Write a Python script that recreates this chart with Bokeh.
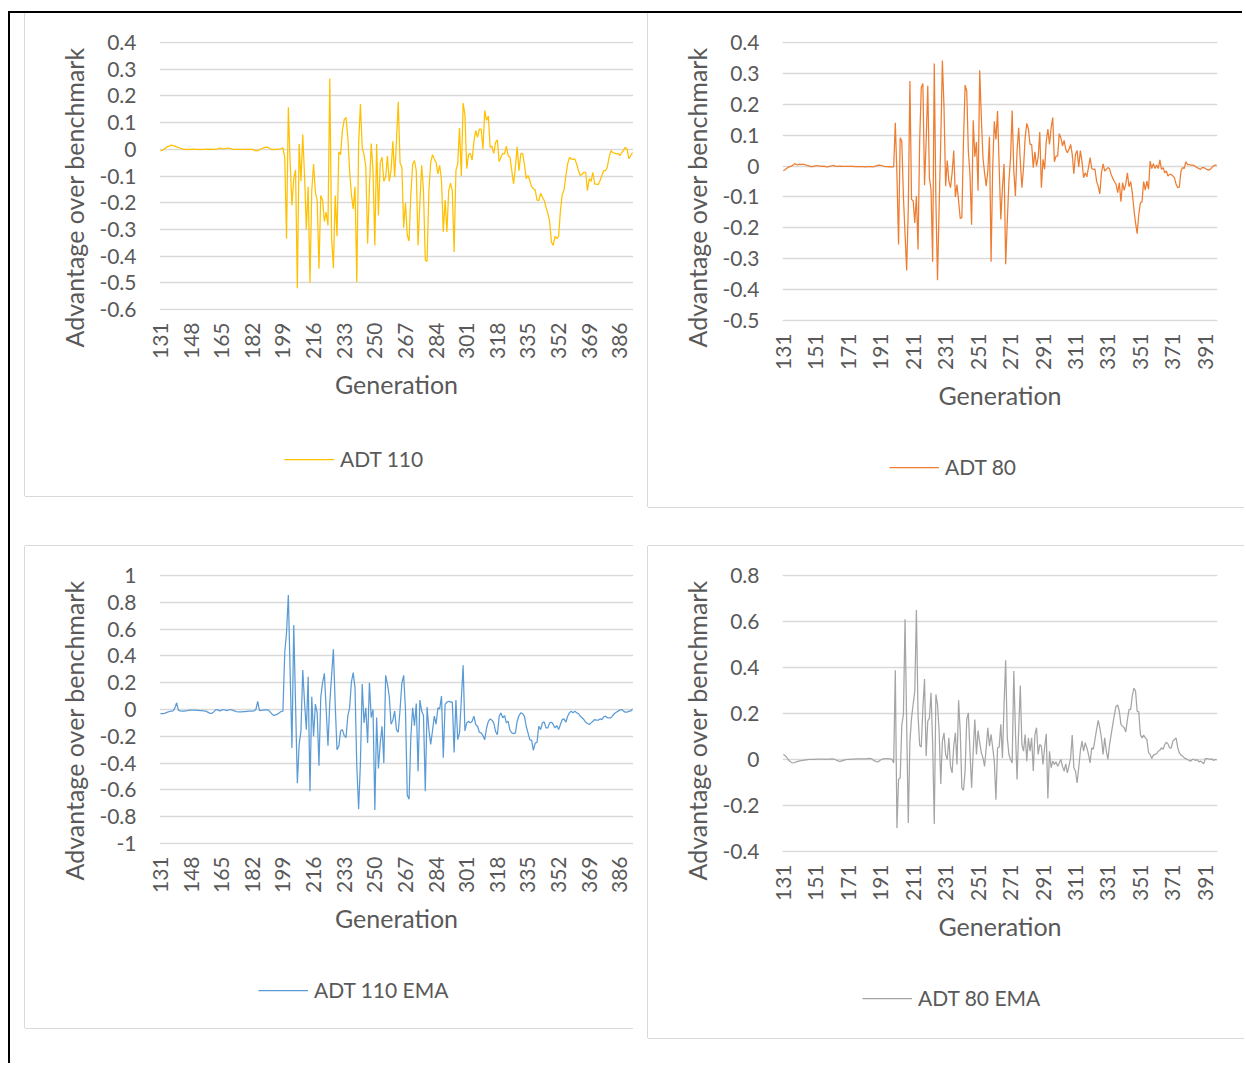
import math
from bokeh.plotting import figure
from bokeh.models import (ColumnDataSource, Range1d, FixedTicker, Legend, LegendItem, Spacer,
                          Title)
from bokeh.layouts import row, column
from bokeh.embed import file_html
from bokeh.resources import INLINE

# ---------------- data ----------------
ADT110 = [
    -0.005, -0.004, 0.0, 0.006, 0.010, 0.012, 0.016, 0.014, 0.012, 0.009,
    0.007, 0.004, 0.002, 0.0, 0.0, -0.001, 0.0, 0.0, 0.001, 0.0,
    0.0, 0.0, -0.001, 0.0, 0.0, 0.0, 0.001, 0.0, 0.0, 0.0,
    0.0, 0.001, 0.002, 0.005, 0.003, 0.002, 0.003, 0.004, 0.004, 0.003,
    0.001, 0.0, 0.0, 0.0, 0.0, 0.0, 0.0, 0.0, 0.0, 0.0,
    0.0, 0.0, -0.003, -0.006, -0.005, -0.002, 0.002, 0.005, 0.007, 0.008,
    0.006, 0.002, -0.001, 0.0, 0.0, 0.0, 0.001, 0.003, 0.005, -0.03,
    -0.335, 0.157, -0.05, -0.21, -0.11, -0.077, -0.52, 0.02, -0.12, 0.055,
    -0.10, -0.30, -0.14, -0.50, -0.155, -0.055, -0.16, -0.19, -0.447, -0.173,
    -0.19, -0.27, -0.235, -0.285, 0.265, -0.33, -0.445, -0.173, -0.326, -0.01,
    -0.02, 0.07, 0.11, 0.12, 0.045, -0.08, -0.17, -0.223, -0.14, -0.497,
    0.02, 0.17, 0.007, -0.02, -0.067, -0.354, -0.14, 0.022, -0.08, -0.36,
    0.02, -0.248, -0.05, -0.03, -0.12, -0.105, -0.025, -0.12, -0.08, 0.03,
    -0.105, 0.03, 0.178, -0.05, -0.067, -0.294, -0.20, -0.322, -0.344, -0.167,
    -0.055, -0.042, -0.08, -0.36, -0.20, -0.06, -0.155, -0.415, -0.42, -0.155,
    -0.05, -0.02, -0.036, -0.05, -0.092, -0.06, -0.117, -0.31, -0.19, -0.31,
    -0.155, -0.127, -0.155, -0.385, -0.08, -0.055, 0.08, -0.10, 0.173, 0.13,
    -0.073, -0.02, -0.015, -0.04, 0.03, 0.07, 0.045, 0.076, 0.076, 0.0,
    0.145, 0.108, 0.125, 0.007, 0.012, -0.015, 0.026, 0.035, -0.046, -0.03,
    -0.015, -0.017, 0.012, -0.024, -0.03, -0.08, -0.13, -0.067, 0.009, -0.08,
    -0.017, -0.015, -0.055, -0.11, -0.098, -0.117, -0.14, -0.148, -0.152, -0.19,
    -0.192, -0.165, -0.18, -0.192, -0.217, -0.24, -0.27, -0.347, -0.36, -0.326,
    -0.335, -0.326, -0.23, -0.17, -0.152, -0.10, -0.055, -0.03, -0.036, -0.038,
    -0.036, -0.055, -0.08, -0.098, -0.094, -0.086, -0.086, -0.155, -0.11, -0.12,
    -0.086, -0.13, -0.13, -0.132, -0.117, -0.098, -0.08, -0.08, -0.067, -0.03,
    -0.005, -0.012, -0.014, -0.017, -0.015, -0.024, -0.012, -0.005, 0.007, 0.0,
    -0.035, -0.024, -0.012,
]

ADT80 = [
    -0.015, -0.012, -0.008, -0.004, -0.002, 0.0, 0.003, 0.008, 0.005, 0.004,
    0.006, 0.005, 0.006, 0.005, 0.003, 0.002, 0.0, -0.002, -0.002, 0.0,
    0.001, 0.001, 0.0, 0.0, -0.001, 0.0, -0.002, -0.003, -0.002, 0.0,
    0.001, 0.002, 0.0, -0.001, -0.001, 0.0, -0.001, -0.001, -0.001, -0.001,
    -0.001, -0.001, -0.001, -0.001, -0.002, -0.002, -0.002, -0.002, -0.002, -0.002,
    -0.003, -0.003, -0.002, -0.002, -0.002, -0.003, -0.002, 0.0, 0.002, 0.003,
    0.002, 0.001, -0.001, -0.002, -0.002, -0.003, -0.002, -0.003, -0.003, 0.14,
    -0.027, -0.254, 0.092, 0.08, -0.10, -0.22, -0.338, -0.135, 0.275, -0.108,
    -0.112, -0.184, -0.097, -0.27, 0.08, 0.254, 0.267, -0.062, 0.08, 0.26,
    -0.038, -0.076, -0.31, 0.332, -0.11, -0.37, -0.135, 0.08, 0.342, 0.19,
    -0.065, 0.018, -0.049, -0.07, -0.022, 0.05, -0.10, -0.06, -0.113, -0.17,
    -0.167, 0.08, 0.262, 0.243, 0.049, -0.027, -0.19, 0.148, 0.03, 0.078,
    -0.08, 0.31, 0.157, 0.027, -0.022, -0.065, -0.016, 0.095, -0.31, -0.005,
    0.145, 0.086, 0.178, -0.005, -0.173, -0.07, 0.007, -0.318, -0.178, -0.049,
    0.027, 0.18, -0.016, -0.097, 0.049, 0.124, 0.016, -0.07, -0.005, 0.092,
    0.138, 0.12, 0.07, 0.07, -0.005, 0.046, 0.0, 0.027, 0.11, -0.07,
    0.022, -0.01, 0.08, 0.12, 0.07, 0.124, 0.157, 0.014, 0.032, 0.032,
    0.105, 0.092, 0.065, 0.083, 0.054, 0.043, 0.054, 0.07, 0.038, -0.025,
    0.038, 0.05, -0.003, 0.05, 0.016, -0.038, -0.022, -0.035, -0.005, 0.027,
    -0.008, -0.011, -0.01, -0.049, -0.065, -0.09, -0.022, 0.007, -0.016, -0.011,
    -0.005, -0.009, -0.027, -0.04, -0.05, -0.059, -0.086, -0.054, -0.115, -0.054,
    -0.079, -0.057, -0.022, -0.067, -0.05, -0.086, -0.14, -0.183, -0.219, -0.157,
    -0.119, -0.116, -0.05, -0.078, -0.049, -0.075, 0.016, -0.008, 0.008, -0.008,
    0.003, -0.008, 0.02, -0.011, -0.005, -0.022, -0.016, -0.032, -0.027, -0.027,
    -0.032, -0.038, -0.059, -0.07, -0.068, -0.016, -0.005, -0.008, 0.014, 0.005,
    0.005, 0.003, 0.003, 0.002, -0.002, -0.005, -0.008, -0.011, -0.005, -0.005,
    -0.008, -0.011, -0.013, -0.011, -0.005, 0.0, 0.003, 0.003,
]

ADT110_EMA = [
    -0.03, -0.03, -0.03, -0.025, -0.02, -0.015, -0.012, -0.01, 0.01, 0.05,
    -0.005, -0.01, -0.012, -0.012, -0.01, -0.008, -0.005, -0.005, -0.005, -0.005,
    -0.006, -0.007, -0.008, -0.008, -0.01, -0.012, -0.018, -0.025, -0.03, -0.025,
    -0.012, 0.0, -0.005, -0.01, -0.005, 0.0, -0.005, -0.008, -0.002, 0.0,
    -0.005, -0.01, -0.015, -0.018, -0.018, -0.017, -0.016, -0.015, -0.014, -0.013,
    -0.012, -0.012, -0.01, 0.0, 0.06, -0.008, -0.006, -0.004, -0.002, -0.002,
    -0.005, -0.02, -0.035, -0.045, -0.04, -0.035, -0.025, -0.015, -0.012, 0.425,
    0.575, 0.855, 0.28, -0.288, 0.63, 0.04, -0.55, -0.26, -0.16, 0.295,
    0.05, -0.15, 0.245, -0.61, 0.095, -0.2, 0.04, -0.025, -0.42, 0.09,
    0.2, 0.27, 0.0, -0.27, 0.05, 0.25, 0.45, 0.04, -0.3, -0.275,
    -0.16, -0.15, -0.195, -0.21, -0.05, 0.012, 0.205, 0.275, 0.16, -0.425,
    -0.745, -0.4, 0.19, -0.1, 0.012, -0.25, 0.2, -0.06, 0.0, -0.75,
    -0.06, -0.44, -0.25, -0.125, -0.40, 0.255, 0.19, 0.10, -0.11, -0.08,
    -0.012, -0.15, -0.17, 0.0, 0.195, 0.255, 0.0, -0.64, -0.67, -0.2,
    0.012, -0.12, 0.045, -0.46, 0.07, -0.012, -0.045, -0.61, 0.018, -0.15,
    -0.26, -0.16, -0.05, -0.11, 0.012, 0.005, 0.1, -0.36, 0.038, 0.055,
    0.062, 0.055, 0.055, -0.32, 0.07, -0.225, -0.175, 0.075, 0.33, -0.16,
    -0.1, -0.088, -0.1, -0.088, -0.05, -0.112, -0.125, -0.17, -0.175, -0.195,
    -0.225, -0.138, -0.088, -0.07, -0.08, -0.1, -0.163, -0.188, -0.05, -0.025,
    -0.062, -0.045, -0.1, -0.088, -0.155, -0.175, -0.18, -0.175, -0.088, -0.045,
    -0.025, -0.03, -0.05, -0.125, -0.175, -0.225, -0.23, -0.305, -0.25, -0.245,
    -0.125, -0.15, -0.1, -0.092, -0.138, -0.138, -0.1, -0.095, -0.112, -0.138,
    -0.12, -0.15, -0.112, -0.075, -0.07, -0.095, -0.05, -0.025, -0.012, -0.025,
    -0.012, -0.025, -0.03, -0.05, -0.062, -0.075, -0.095, -0.105, -0.112, -0.1,
    -0.088, -0.075, -0.08, -0.08, -0.07, -0.075, -0.055, -0.05, -0.062, -0.062,
    -0.062, -0.045, -0.03, -0.02, -0.012, -0.005, 0.0, -0.012, -0.02, -0.02,
    -0.012, -0.012, 0.005,
]

ADT80_EMA = [
    0.022, 0.018, 0.01, 0.0, -0.008, -0.013, -0.015, -0.013, -0.01, -0.008,
    -0.006, -0.005, -0.004, -0.003, -0.002, -0.001, 0.0, 0.0, 0.001, 0.001,
    0.001, 0.002, 0.002, 0.002, 0.002, 0.002, 0.001, 0.002, 0.002, 0.002,
    0.003, 0.002, 0.0, -0.004, -0.007, -0.008, -0.006, -0.004, -0.002, 0.0,
    0.001, 0.001, 0.002, 0.002, 0.002, 0.003, 0.003, 0.003, 0.003, 0.003,
    0.003, 0.003, 0.004, 0.005, 0.004, 0.0, -0.005, -0.009, -0.01, -0.007,
    -0.002, 0.002, 0.003, 0.004, 0.004, 0.003, 0.003, 0.0, -0.015, 0.388,
    -0.298, -0.087, -0.08, 0.15, 0.196, 0.61, 0.15, -0.276, 0.08, 0.18,
    0.24, 0.298, 0.65, 0.196, 0.062, 0.054, 0.225, 0.35, 0.015, 0.167,
    0.18, 0.29, 0.073, -0.28, 0.283, 0.24, 0.123, -0.106, 0.08, 0.116,
    0.022, 0.0, 0.094, -0.03, -0.058, 0.058, 0.116, -0.022, 0.258, 0.123,
    -0.123, -0.134, -0.05, 0.174, 0.203, 0.036, -0.123, 0.036, 0.174, 0.022,
    0.126, 0.073, 0.029, 0.007, -0.03, 0.051, 0.138, 0.058, 0.109, 0.051,
    -0.007, -0.175, 0.051, 0.054, 0.153, 0.007, 0.24, 0.431, 0.094, 0.022,
    0.0, -0.015, 0.385, 0.123, -0.087, 0.123, 0.322, 0.065, 0.036, 0.109,
    -0.007, 0.094, 0.036, 0.094, -0.05, 0.109, 0.138, 0.022, 0.065, 0.058,
    -0.022, 0.051, 0.112, -0.17, 0.036, -0.036, -0.007, -0.022, -0.01, -0.03,
    -0.015, 0.0, -0.03, -0.05, -0.019, -0.058, -0.029, 0.007, 0.106, -0.036,
    -0.05, -0.102, -0.036, 0.036, 0.08, 0.036, 0.073, 0.051, 0.022, -0.015,
    0.051, 0.044, 0.087, 0.131, 0.17, 0.138, 0.094, 0.022, 0.094, 0.036,
    0.0, 0.065, 0.109, 0.153, 0.196, 0.232, 0.237, 0.211, 0.153, 0.145,
    0.138, 0.12, 0.174, 0.218, 0.218, 0.276, 0.31, 0.298, 0.21, 0.207,
    0.109, 0.094, 0.106, 0.094, 0.087, 0.03, 0.022, 0.004, 0.019, 0.022,
    0.025, 0.036, 0.04, 0.051, 0.044, 0.065, 0.075, 0.068, 0.05, 0.05,
    0.08, 0.087, 0.094, 0.051, 0.029, 0.019, 0.015, 0.007, 0.004, 0.0,
    -0.004, -0.007, 0.0, 0.0, -0.004, 0.0, -0.01, -0.007, -0.012, -0.019,
    0.004, 0.004, 0.003, 0.0, 0.003, -0.004, 0.0, -0.002,
]

FIRST_GEN = 131
GEN_110 = list(range(FIRST_GEN, FIRST_GEN + len(ADT110)))
GEN_80 = list(range(FIRST_GEN, FIRST_GEN + len(ADT80)))
GEN_110_EMA = list(range(FIRST_GEN, FIRST_GEN + len(ADT110_EMA)))
GEN_80_EMA = list(range(FIRST_GEN, FIRST_GEN + len(ADT80_EMA)))

XTICKS_17 = [131, 148, 165, 182, 199, 216, 233, 250, 267, 284, 301, 318, 335, 352, 369, 386]
XTICKS_20 = [131, 151, 171, 191, 211, 231, 251, 271, 291, 311, 331, 351, 371, 391]

YT_ADT110 = [0.4, 0.3, 0.2, 0.1, 0.0, -0.1, -0.2, -0.3, -0.4, -0.5, -0.6]
YL_ADT110 = ["0.4", "0.3", "0.2", "0.1", "0", "-0.1", "-0.2", "-0.3", "-0.4", "-0.5", "-0.6"]
YT_ADT80 = [0.4, 0.3, 0.2, 0.1, 0.0, -0.1, -0.2, -0.3, -0.4, -0.5]
YL_ADT80 = ["0.4", "0.3", "0.2", "0.1", "0", "-0.1", "-0.2", "-0.3", "-0.4", "-0.5"]
YT_ADT110_EMA = [1.0, 0.8, 0.6, 0.4, 0.2, 0.0, -0.2, -0.4, -0.6, -0.8, -1.0]
YL_ADT110_EMA = ["1", "0.8", "0.6", "0.4", "0.2", "0", "-0.2", "-0.4", "-0.6", "-0.8", "-1"]
YT_ADT80_EMA = [0.8, 0.6, 0.4, 0.2, 0.0, -0.2, -0.4]
YL_ADT80_EMA = ["0.8", "0.6", "0.4", "0.2", "0", "-0.2", "-0.4"]

Y_TITLE = "Advantage over benchmark"
X_TITLE = "Generation"

# ---------------- styling ----------------
FONT = "Lato"
TXT = "#595959"
GRID = "#d9d9d9"
TICK_SIZE = "21px"
TITLE_SIZE = "25px"


def make_chart(gens, vals, color, name, W, H, HL, bl, br, bt, bb, xr, yr, yt, yl, xt,
               ytitle_offset, legend_xy, shadow):
    p = figure(width=W, height=H, x_range=Range1d(*xr), y_range=Range1d(*yr),
               toolbar_location=None, output_backend="svg",
               min_border_left=bl, min_border_right=br, min_border_top=bt, min_border_bottom=bb,
               outline_line_color=None, background_fill_color="white", border_fill_color="white")
    src = ColumnDataSource(dict(x=gens, y=vals))
    p.line("x", "y", source=src, line_color=color, line_width=1.25)

    p.xgrid.visible = False
    p.ygrid.grid_line_color = GRID
    p.ygrid.grid_line_width = 1.4

    p.yaxis.ticker = FixedTicker(ticks=yt)
    p.yaxis.major_label_overrides = dict(zip(yt, yl))
    p.xaxis.ticker = FixedTicker(ticks=xt)
    p.xaxis.major_label_overrides = {t: str(t) for t in xt}
    p.xaxis.major_label_orientation = math.pi / 2
    for ax in (p.xaxis[0], p.yaxis[0]):
        ax.axis_line_color = None
        ax.major_tick_line_color = None
        ax.minor_tick_line_color = None
        ax.major_tick_out = 0
        ax.major_tick_in = 0
        ax.major_label_text_font = FONT
        ax.major_label_text_font_size = TICK_SIZE
        ax.major_label_text_color = TXT
    p.yaxis.major_label_standoff = 23
    p.xaxis.major_label_standoff = 12

    # x-axis title
    p.xaxis.axis_label = X_TITLE
    p.xaxis.axis_label_standoff = 7
    p.xaxis.axis_label_text_font = FONT
    p.xaxis.axis_label_text_font_size = TITLE_SIZE
    p.xaxis.axis_label_text_font_style = "normal"
    p.xaxis.axis_label_text_color = TXT

    # y-axis title: starts below the plot bottom, like in the reference
    p.add_layout(Title(text=Y_TITLE, align="left", offset=ytitle_offset, standoff=16,
                       text_font=FONT, text_font_size=TITLE_SIZE, text_font_style="normal",
                       text_color=TXT), "left")

    # legend strip below the chart body
    lp = figure(width=W, height=HL, x_range=Range1d(0, 1), y_range=Range1d(0, 1),
                toolbar_location=None, output_backend="svg",
                x_axis_location=None, y_axis_location=None, min_border=0,
                outline_line_color=None, background_fill_color="white", border_fill_color="white")
    lp.grid.visible = False
    sample_src = ColumnDataSource(dict(x=[0.5], y=[0.5]))
    sample = lp.line("x", "y", source=sample_src, line_color=color, line_width=1.25)
    leg = Legend(items=[LegendItem(label=name, renderers=[sample])], location=legend_xy,
                 orientation="horizontal", glyph_width=50, glyph_height=24, label_height=24,
                 label_standoff=6, padding=0, margin=0, spacing=0,
                 border_line_color=None, background_fill_alpha=0,
                 label_text_font=FONT, label_text_font_size=TICK_SIZE, label_text_color=TXT)
    lp.add_layout(leg)
    return column(p, lp, styles={"box-shadow": shadow})


SH_LB = "-1px 0 0 0 #d9d9d9, 0 1px 0 0 #d9d9d9"
SH_LTB = "-1px 0 0 0 #d9d9d9, 0 1px 0 0 #d9d9d9, 0 -1px 0 0 #d9d9d9"

c1 = make_chart(GEN_110, ADT110, "#FFC000", "ADT 110", 608, 407, 76, 134, 0, 28, 110,
                (130.5, 393.55), (-0.60375, 0.40375), YT_ADT110, YL_ADT110, XTICKS_17,
                -37, (125, 25), SH_LB)
c2 = make_chart(GEN_80, ADT80, "#ED7D31", "ADT 80", 596, 408, 86, 134, 27, 28, 100,
                (130.5, 398.5), (-0.50324, 0.40324), YT_ADT80, YL_ADT80, XTICKS_20,
                -26, (107, 28), SH_LB)
c3 = make_chart(GEN_110_EMA, ADT110_EMA, "#5B9BD5", "ADT 110 EMA", 608, 404, 78, 134, 0, 28, 106,
                (130.5, 393.55), (-1.00746, 1.00746), YT_ADT110_EMA, YL_ADT110_EMA, XTICKS_17,
                -36, (99, 26), SH_LTB)
c4 = make_chart(GEN_80_EMA, ADT80_EMA, "#A5A5A5", "ADT 80 EMA", 596, 412, 80, 134, 27, 28, 106,
                (130.5, 398.5), (-0.40435, 0.80435), YT_ADT80_EMA, YL_ADT80_EMA, XTICKS_20,
                -28, (80, 28), SH_LTB)

row1 = row(Spacer(width=15, height=494), c1, Spacer(width=15, height=494), c2)
row2 = row(Spacer(width=15, height=492), c3, Spacer(width=15, height=492), c4)
frame = column(row1, Spacer(width=1234, height=39), row2, Spacer(width=1234, height=27),
               styles={"box-shadow": "-2px -2px 0 0 #000000"})
page = column(Spacer(width=1244, height=13), row(Spacer(width=10, height=10), frame))

open("out.html", "w").write(file_html(page, INLINE))
